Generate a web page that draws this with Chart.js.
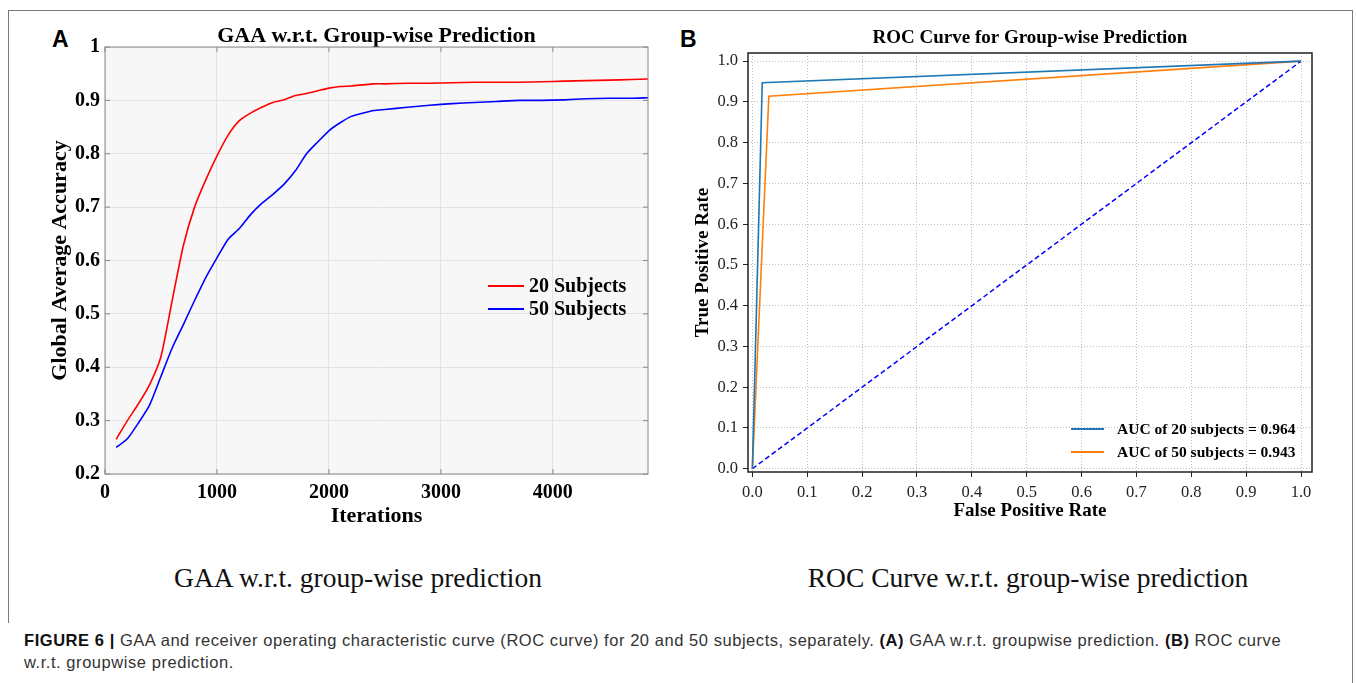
<!DOCTYPE html>
<html>
<head>
<meta charset="utf-8">
<title>GAA and ROC curve</title>
<script src="https://cdn.jsdelivr.net/npm/chart.js@4.4.1/dist/chart.umd.min.js"></script>
<style>
  body { margin: 0; width: 1356px; height: 683px; background: #fff; position: relative; overflow: hidden; }
  .rule { position: absolute; background: #7a7a7a; }
  .panel-tag { position: absolute; font: bold 23px "Liberation Sans", Arial, sans-serif; color: #000; }
  .sub { position: absolute; font: 27.5px "Liberation Serif", "Times New Roman", serif; line-height: 32px; color: #111; text-align: center; white-space: nowrap; }
  .wrap { position: absolute; }
  #caption { position: absolute; left: 24px; top: 629px; font: 16.5px "Liberation Sans", Arial, sans-serif; letter-spacing: 0.55px; line-height: 22px; color: #333; white-space: nowrap; }
  #caption b { color: #111; }
</style>
</head>
<body>

<div class="rule" style="left:8px;top:10px;width:1345px;height:1px"></div>
<div class="rule" style="left:8px;top:10px;width:1px;height:613px"></div>
<div class="rule" style="left:1352px;top:10px;width:1px;height:673px"></div>

<div class="panel-tag" style="left:52px;top:26px">A</div>
<div class="panel-tag" style="left:680px;top:26px">B</div>

<div class="wrap" style="left:20px;top:20px"><canvas id="chart-a" width="640" height="520"></canvas></div>
<div class="wrap" style="left:680px;top:20px"><canvas id="chart-b" width="660" height="520"></canvas></div>

<div class="sub" style="left:108px;top:562px;width:500px">GAA w.r.t. group-wise prediction</div>
<div class="sub" style="left:728px;top:562px;width:600px">ROC Curve w.r.t. group-wise prediction</div>

<div id="caption"><b>FIGURE 6 |</b> GAA and receiver operating characteristic curve (ROC curve) for 20 and 50 subjects, separately. <b>(A)</b> GAA w.r.t. groupwise prediction. <b>(B)</b> ROC curve<br>w.r.t. groupwise prediction.</div>

<script>
// ── Data ─────────────────────────────────────────────────────────────────────

const iterations = [100, 200, 300, 400, 500, 600, 700, 800, 900, 1000, 1100, 1200, 1300,
  1400, 1500, 1600, 1700, 1800, 1900, 2000, 2100, 2200, 2300, 2400, 2500,
  2700, 2900, 3100, 3300, 3500, 3700, 3900, 4100, 4300, 4500, 4700, 4850];
const gaa20 = [0.265, 0.300, 0.332, 0.368, 0.420, 0.525, 0.628, 0.700, 0.751, 0.796, 0.835, 0.862, 0.876,
  0.887, 0.896, 0.901, 0.909, 0.913, 0.918, 0.923, 0.926, 0.927, 0.929, 0.931, 0.931,
  0.932, 0.932, 0.933, 0.934, 0.934, 0.934, 0.935, 0.936, 0.937, 0.938, 0.939, 0.940];
const gaa50 = [0.250, 0.266, 0.296, 0.330, 0.383, 0.436, 0.480, 0.525, 0.568, 0.605, 0.640, 0.660, 0.686,
  0.707, 0.724, 0.743, 0.768, 0.800, 0.822, 0.843, 0.858, 0.870, 0.876, 0.881, 0.883,
  0.887, 0.891, 0.894, 0.896, 0.898, 0.900, 0.900, 0.901, 0.903, 0.904, 0.904, 0.905];

const fpr20 = [0, 0.018, 1];
const tpr20 = [0, 0.947, 1];
const fpr50 = [0, 0.030, 1];
const tpr50 = [0, 0.914, 1];
const chanceLine = [0, 1];

const ticksIter = [0, 1000, 2000, 3000, 4000];
const ticksGaa  = [0.2, 0.3, 0.4, 0.5, 0.6, 0.7, 0.8, 0.9, 1];
const ticksRate = [0, 0.1, 0.2, 0.3, 0.4, 0.5, 0.6, 0.7, 0.8, 0.9, 1];

const xy = (xs, ys) => xs.map((x, i) => ({ x: x, y: ys[i] }));
const setTicks = list => s => { s.ticks = list.map(v => ({ value: v })); };

const serif = '"Liberation Serif", "Times New Roman", serif';

// ── Plugins ──────────────────────────────────────────────────────────────────

const plotBox = {
  id: 'plotBox',
  beforeDatasetsDraw(chart, args, o) {
    if (!o.fill) return;
    const a = chart.chartArea, ctx = chart.ctx;
    ctx.save();
    ctx.globalCompositeOperation = 'destination-over';
    ctx.fillStyle = o.fill;
    ctx.fillRect(a.left, a.top, a.right - a.left, a.bottom - a.top);
    ctx.restore();
  },
  afterDraw(chart, args, o) {
    const a = chart.chartArea, ctx = chart.ctx;
    ctx.save();
    ctx.strokeStyle = o.color;
    ctx.lineWidth = o.width;
    ctx.strokeRect(a.left, a.top, a.right - a.left, a.bottom - a.top);
    // inward tick marks on all four sides (MATLAB style)
    if (o.innerTicks) {
      ctx.beginPath();
      chart.scales.x.ticks.forEach(t => {
        const px = chart.scales.x.getPixelForValue(t.value);
        ctx.moveTo(px, a.bottom); ctx.lineTo(px, a.bottom - o.innerTicks);
        ctx.moveTo(px, a.top);    ctx.lineTo(px, a.top + o.innerTicks);
      });
      chart.scales.y.ticks.forEach(t => {
        const py = chart.scales.y.getPixelForValue(t.value);
        ctx.moveTo(a.left, py);  ctx.lineTo(a.left + o.innerTicks, py);
        ctx.moveTo(a.right, py); ctx.lineTo(a.right - o.innerTicks, py);
      });
      ctx.stroke();
    }
    ctx.restore();
  }
};

const innerLegend = {
  id: 'innerLegend',
  afterDatasetsDraw(chart, args, o) {
    const a = chart.chartArea, ctx = chart.ctx;
    ctx.save();
    ctx.font = o.font;
    ctx.textBaseline = 'middle';
    ctx.fillStyle = '#000';
    let row = 0;
    chart.data.datasets.forEach(ds => {
      if (!ds.label) return;
      const x = a.left + o.left;
      const y = a.top + o.top + row * o.rowHeight;
      ctx.strokeStyle = ds.borderColor;
      ctx.lineWidth = 2;
      ctx.beginPath();
      ctx.moveTo(x, y); ctx.lineTo(x + o.lineLength, y);
      ctx.stroke();
      ctx.fillText(ds.label, x + o.lineLength + o.gap, y + 1);
      row++;
    });
    ctx.restore();
  }
};

Chart.register(plotBox, innerLegend);

// ── Panel A: GAA ─────────────────────────────────────────────────────────────

const tickFontA  = { family: serif, size: 20, weight: 'bold' };
const labelFontA = { family: serif, size: 22, weight: 'bold' };

new Chart(document.getElementById('chart-a'), {
  type: 'line',
  data: {
    datasets: [
      { label: '20 Subjects', data: xy(iterations, gaa20), borderColor: '#ff0000', borderWidth: 1.6, pointRadius: 0, tension: 0.2 },
      { label: '50 Subjects', data: xy(iterations, gaa50), borderColor: '#0000ff', borderWidth: 1.6, pointRadius: 0, tension: 0.2 }
    ]
  },
  options: {
    responsive: false, animation: false,
    layout: { padding: { left: 0, right: 12, top: 0, bottom: 10 } },
    plugins: {
      legend: { display: false }, tooltip: { enabled: false },
      title: { display: true, fullSize: false, text: 'GAA w.r.t. Group-wise Prediction', color: '#000',
        font: { family: serif, size: 22, weight: 'bold', lineHeight: 1 }, padding: { top: 5, bottom: 0 } },
      plotBox: { fill: '#f7f7f7', color: '#8a8a8a', width: 1, innerTicks: 5 },
      innerLegend: { font: 'bold 20px ' + serif, left: 383, top: 239, rowHeight: 23, lineLength: 36, gap: 5 }
    },
    scales: {
      x: {
        type: 'linear', min: 0, max: 4850,
        afterBuildTicks: setTicks(ticksIter),
        afterFit: s => { s.height = 56; },
        ticks: { font: tickFontA, color: '#000', padding: 7, maxRotation: 0, callback: v => String(v) },
        grid: { color: '#e3e3e3', drawTicks: false },
        border: { display: false },
        title: { display: true, text: 'Iterations', color: '#000', font: labelFontA, padding: 0 }
      },
      y: {
        min: 0.2, max: 1,
        afterBuildTicks: setTicks(ticksGaa),
        afterFit: s => { s.width = 85; },
        ticks: { font: tickFontA, color: '#000', padding: 5, callback: v => v === 1 ? '1' : v.toFixed(1) },
        grid: { color: '#e3e3e3', drawTicks: false },
        border: { display: false },
        title: { display: true, text: 'Global Average Accuracy', color: '#000', font: labelFontA, padding: { top: 27, bottom: 0 } }
      }
    }
  }
});

// ── Panel B: ROC ─────────────────────────────────────────────────────────────

const tickFontB  = { family: serif, size: 16.5 };
const labelFontB = { family: serif, size: 19, weight: 'bold' };
const gridB = { color: '#bdbdbd', lineWidth: 1, tickColor: '#222', tickLength: 5, tickWidth: 1 };

new Chart(document.getElementById('chart-b'), {
  type: 'line',
  data: {
    datasets: [
      { label: 'AUC of 20 subjects = 0.964', data: xy(fpr20, tpr20), borderColor: '#1f77b4', borderWidth: 1.6, pointRadius: 0, tension: 0 },
      { label: 'AUC of 50 subjects = 0.943', data: xy(fpr50, tpr50), borderColor: '#ff7f0e', borderWidth: 1.6, pointRadius: 0, tension: 0 },
      { label: '', data: xy(chanceLine, chanceLine), borderColor: '#0000ff', borderWidth: 1.5, borderDash: [5, 3], pointRadius: 0, tension: 0 }
    ]
  },
  options: {
    responsive: false, animation: false,
    layout: { padding: { left: 0, right: 28, top: 0, bottom: 18 } },
    plugins: {
      legend: { display: false }, tooltip: { enabled: false },
      title: { display: true, fullSize: false, text: 'ROC Curve for Group-wise Prediction', color: '#000',
        font: { family: serif, size: 19, weight: 'bold', lineHeight: 1.2 }, padding: { top: 7, bottom: 3.2 } },
      plotBox: { fill: null, color: '#222', width: 1.5, innerTicks: 0 },
      innerLegend: { font: 'bold 15.5px ' + serif, left: 323, top: 376, rowHeight: 23, lineLength: 33, gap: 13 }
    },
    scales: {
      x: {
        type: 'linear', min: -0.008, max: 1.02,
        afterBuildTicks: setTicks(ticksRate),
        afterFit: s => { s.height = 50; },
        ticks: { font: tickFontB, color: '#222', padding: 6, maxRotation: 0, callback: v => v.toFixed(1) },
        grid: gridB,
        border: { display: false, dash: [1, 2] },
        title: { display: true, text: 'False Positive Rate', color: '#000', font: labelFontB, padding: 0 }
      },
      y: {
        min: -0.008, max: 1.02,
        afterBuildTicks: setTicks(ticksRate),
        afterFit: s => { s.width = 68; },
        ticks: { font: tickFontB, color: '#222', padding: 5, callback: v => v.toFixed(1) },
        grid: gridB,
        border: { display: false, dash: [1, 2] },
        title: { display: true, text: 'True Positive Rate', color: '#000', font: labelFontB, padding: { top: 12, bottom: 0 } }
      }
    }
  }
});
</script>
</body>
</html>
